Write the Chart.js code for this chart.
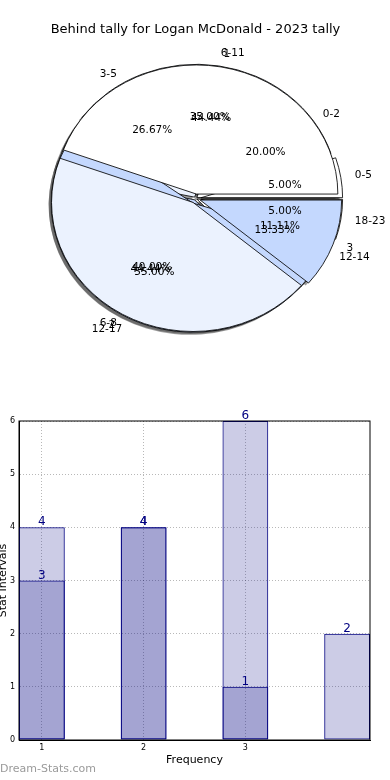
<!DOCTYPE html>
<html>
<head>
<meta charset="utf-8">
<title>Behind tally</title>
<script src="https://cdn.jsdelivr.net/npm/chart.js@4.4.1/dist/chart.umd.min.js"></script>
<style>
  html, body { margin: 0; padding: 0; background: #fff; }
  body { width: 390px; height: 780px; position: relative; overflow: hidden; font-family: 'DejaVu Sans', sans-serif; }
  #pieBox { position: absolute; left: 0; top: 0; width: 390px; height: 380px; }
  #barBox { position: absolute; left: 0; top: 380px; width: 390px; height: 400px; }
  #brand { position: absolute; left: 0; top: 762px; font-size: 11px; line-height: 14px; color: #9a9a9a; }
</style>
</head>
<body>
<div id="pieBox"><canvas id="pie"></canvas></div>
<div id="barBox"><canvas id="bar"></canvas></div>
<div id="brand">Dream-Stats.com</div>
<script>
// ── Data ─────────────────────────────────────────────────────────────────────

const TITLE = 'Behind tally for Logan McDonald - 2023 tally';

// three tallies drawn on top of each other
const rangeLabelsA = ['0-2', '3-5', '6-8', '12-14'];
const rangeValuesA = [3, 4, 6, 2];
const rangeLabelsB = ['1', '2', '3'];
const rangeValuesB = [4, 4, 1];
const rangeLabelsC = ['0-5', '6-11', '12-17', '18-23'];
const rangeValuesC = [1, 7, 11, 1];

const freqPositions = [1, 2, 3, 4];
const freqTicks = [1, 2, 3];
const intervalsFirst = [4, 4, 6, 2];
const intervalsSecond = [3, 4, 1];
const intervalTicks = [0, 1, 2, 3, 4, 5, 6];

// ── Pie (three overlaid tallies) ─────────────────────────────────────────────

const FONT = "'DejaVu Sans', 'Liberation Sans', sans-serif";
const WEDGE_COLORS = ['#ffffff', '#ebf2fe', '#c4d8fe'];
const ELLIPSE_X = 1.096;   // axes are not square, so the pie comes out wider than tall
const SHADOW = 0.02;

// Chart.js goes clockwise, the original goes counter-clockwise: feed it reversed
function pieDataset(labels, values, explode, order) {
    return {
        data: values.slice().reverse(),
        sliceLabels: labels.slice().reverse(),
        backgroundColor: values.map((v, i) => WEDGE_COLORS[i % WEDGE_COLORS.length]).reverse(),
        borderColor: '#000',
        borderWidth: 0.8,
        explode,
        order,
    };
}

const overlayPies = {
    id: 'overlayPies',
    afterDatasetsUpdate(chart) {
        // every tally gets the full radius instead of its own ring
        const R = chart.getDatasetMeta(0).controller.outerRadius;
        chart.data.datasets.forEach((ds, di) => {
            chart.getDatasetMeta(di).data.forEach(arc => {
                const mid = (arc.startAngle + arc.endAngle) / 2;
                arc.innerRadius = 0;
                arc.outerRadius = R;
                arc.x += ds.explode * R * Math.cos(mid);
                arc.y += ds.explode * R * Math.sin(mid);
            });
        });
    },
    beforeDatasetsDraw(chart) {
        const { ctx, chartArea: a } = chart;
        const cx = (a.left + a.right) / 2;
        ctx.save();
        ctx.translate(cx, 0);
        ctx.scale(ELLIPSE_X, 1);
        ctx.translate(-cx, 0);

        ctx.fillStyle = 'rgba(60, 60, 60, 0.5)';
        chart.data.datasets.forEach((ds, di) => {
            chart.getDatasetMeta(di).data.forEach(arc => {
                const off = SHADOW * arc.outerRadius;
                ctx.beginPath();
                ctx.moveTo(arc.x - off, arc.y + off);
                ctx.arc(arc.x - off, arc.y + off, arc.outerRadius, arc.startAngle, arc.endAngle);
                ctx.closePath();
                ctx.fill();
            });
        });
    },
    afterDatasetsDraw(chart) {
        const { ctx, chartArea: a } = chart;
        ctx.restore();

        const cx = (a.left + a.right) / 2;
        ctx.save();
        ctx.fillStyle = '#000';
        ctx.font = `10.5px ${FONT}`;
        ctx.textBaseline = 'middle';
        chart.data.datasets.forEach((ds, di) => {
            const meta = chart.getDatasetMeta(di);
            const total = ds.data.reduce((s, v) => s + v, 0);
            meta.data.forEach((arc, i) => {
                const mid = (arc.startAngle + arc.endAngle) / 2;
                const R = arc.outerRadius;

                const lx = cx + ELLIPSE_X * (arc.x + 1.1 * R * Math.cos(mid) - cx);
                const ly = arc.y + 1.1 * R * Math.sin(mid);
                ctx.textAlign = lx > cx ? 'left' : 'right';
                ctx.fillText(ds.sliceLabels[i], lx, ly);

                const px = cx + ELLIPSE_X * (arc.x + 0.6 * R * Math.cos(mid) - cx);
                const py = arc.y + 0.6 * R * Math.sin(mid);
                ctx.textAlign = 'center';
                ctx.fillText((100 * ds.data[i] / total).toFixed(2) + '%', px, py);
            });
        });
        ctx.restore();
    },
};

new Chart(document.getElementById('pie'), {
    type: 'pie',
    data: {
        labels: rangeLabelsC.slice().reverse(),
        datasets: [
            pieDataset(rangeLabelsB, rangeValuesB, 0.035, 0),
            pieDataset(rangeLabelsC, rangeValuesC, 0.04, 1),
            pieDataset(rangeLabelsA, rangeValuesA, 0.012, 2),
        ],
    },
    options: {
        responsive: true,
        maintainAspectRatio: false,
        animation: false,
        events: [],
        rotation: 90,
        layout: { padding: { left: 1, right: 0, top: 0, bottom: 52 } },
        plugins: {
            legend: { display: false },
            tooltip: { enabled: false },
            title: {
                display: true,
                text: TITLE,
                color: '#000',
                font: { family: FONT, size: 13, weight: 'normal' },
                padding: { top: 22, bottom: 31.4 },
            },
        },
    },
    plugins: [overlayPies],
});

// ── Bars ─────────────────────────────────────────────────────────────────────

const NAVY = '#000080';
const GRID = { color: 'rgba(0, 0, 0, 0.28)', lineWidth: 1, drawTicks: false, offset: false };
const BORDER = { color: '#000', width: 1, dash: [1, 2] };

const barLabels = {
    id: 'barLabels',
    afterDatasetsDraw(chart) {
        const { ctx, chartArea: a } = chart;
        ctx.save();
        ctx.strokeStyle = '#000';
        ctx.lineWidth = 1;
        ctx.strokeRect(a.left, a.top, a.right - a.left, a.bottom - a.top);

        ctx.fillStyle = NAVY;
        ctx.font = `12px ${FONT}`;
        ctx.textAlign = 'center';
        ctx.textBaseline = 'alphabetic';
        chart.data.datasets.forEach((ds, di) => {
            chart.getDatasetMeta(di).data.forEach((bar, i) => {
                ctx.fillText(String(ds.data[i].y), bar.x, bar.y - 2);
            });
        });
        ctx.restore();
    },
};

const barStyle = {
    backgroundColor: 'rgba(0, 0, 128, 0.2)',
    borderColor: NAVY,
    borderWidth: 1,
    borderSkipped: false,
    grouped: false,
    categoryPercentage: 1,
    barPercentage: 0.45,
};

new Chart(document.getElementById('bar'), {
    type: 'bar',
    data: {
        datasets: [
            { ...barStyle, data: intervalsFirst.map((y, i) => ({ x: freqPositions[i], y })) },
            { ...barStyle, data: intervalsSecond.map((y, i) => ({ x: freqPositions[i], y })) },
        ],
    },
    options: {
        responsive: true,
        maintainAspectRatio: false,
        animation: false,
        events: [],
        layout: { padding: { top: 41, right: 20, left: 0, bottom: 0 } },
        plugins: { legend: { display: false }, tooltip: { enabled: false } },
        scales: {
            x: {
                type: 'linear',
                offset: false,
                min: 0.775,
                max: 4.225,
                afterBuildTicks: s => { s.ticks = freqTicks.map(value => ({ value })); },
                afterFit: s => { s.height = 40; },
                ticks: { color: '#000', padding: 3, font: { family: FONT, size: 8 } },
                grid: GRID,
                border: BORDER,
                title: {
                    display: true, text: 'Frequency', color: '#000',
                    font: { family: FONT, size: 11 }, padding: { top: 0, bottom: 13.4 },
                },
            },
            y: {
                min: 0,
                max: 6,
                afterBuildTicks: s => { s.ticks = intervalTicks.map(value => ({ value })); },
                afterFit: s => { s.width = 19; },
                ticks: { color: '#000', padding: 4, font: { family: FONT, size: 8 } },
                grid: GRID,
                border: BORDER,
                title: {
                    display: true, text: 'Stat Intervals', color: '#000',
                    font: { family: FONT, size: 11 }, padding: { top: -3, bottom: 0 },
                },
            },
        },
    },
    plugins: [barLabels],
});
</script>
</body>
</html>
